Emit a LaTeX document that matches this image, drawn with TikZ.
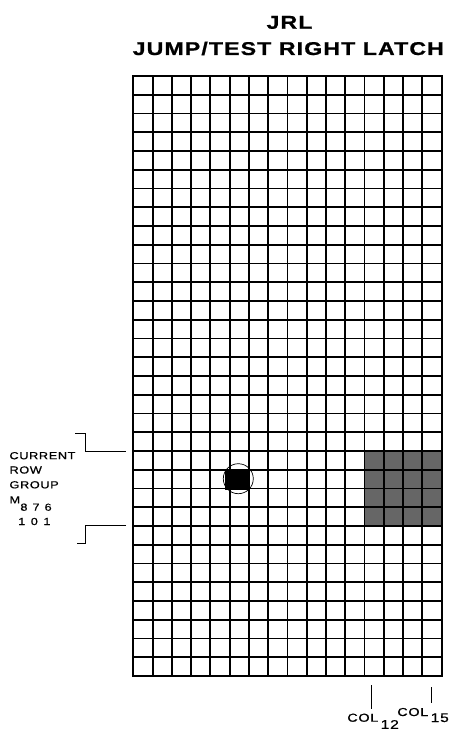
\documentclass[tikz,border=0pt]{standalone}
\usepackage{fontspec}
\setmainfont{Liberation Sans}
\newfontfamily\titlef[FakeStretch=1.25,LetterSpace=6,BoldFeatures={FakeBold=0.8}]{Liberation Sans}
\newfontfamily\labf[FakeStretch=1.25,LetterSpace=6,FakeBold=0.7]{Liberation Sans}
\tikzset{
  gridline/.style={line width=1.9pt, line cap=rect},
  thinline/.style={line width=0.9pt},
  titletext/.style={inner sep=0pt, anchor=base, font=\titlef\bfseries\fontsize{18.5}{20}\selectfont},
  labtext/.style={inner sep=0pt, anchor=base west, font=\labf\fontsize{10.2}{11}\selectfont},
  coltext/.style={inner sep=0pt, anchor=base east, font=\labf\fontsize{11.5}{12}\selectfont},
  colnum/.style={inner sep=0pt, anchor=base west, font=\labf\fontsize{12.5}{13}\selectfont},
  shade/.style={fill=black!60}
}
\begin{document}
\begin{tikzpicture}[x=1pt,y=-1pt]
\useasboundingbox (0,0) rectangle (455,733);
% titles
\node[titletext] (t1) at (289.5,28.7) {JRL};
\node[titletext] (t2) at (288.3,55) {JUMP/TEST RIGHT LATCH};
% shaded block (cols 12-15, rows 20-23)
\fill[shade] ({133.3+12*19.27},{76+20*18.75}) rectangle (441.7,{76+24*18.75});
% black cell
\fill[black] (225,469.5) rectangle (250,490);
% grid
\foreach \i in {0,...,16} \draw[gridline] ({133.3+\i*19.27},76) -- ({133.3+\i*19.27},676);
\foreach \j in {0,...,32} \draw[gridline] (133.3,{76+\j*18.75}) -- (441.7,{76+\j*18.75});
% circle around black cell
\draw[line width=0.7pt] (238.3,478.7) circle[radius=15];
% brackets
\draw[thinline] (75,433.3) -- (85,433.3) -- (85,451) -- (126,451);
\draw[thinline] (126,525) -- (85,525) -- (85,543) -- (77,543);
% left labels
\node[labtext] (l1) at (9.3,459.2) {CURRENT};
\node[labtext] (l2) at (9.3,473.5) {ROW};
\node[labtext] (l3) at (9.3,488.3) {GROUP};
\node[labtext] (l4) at (9.3,503.3) {M};
\node[labtext] (l5) at (20.2,510.7) {8\hspace{5pt}7\hspace{5pt}6};
\node[labtext] (l6) at (18,525) {1\hspace{5.5pt}0\hspace{5.5pt}1};
% column ticks and labels
\draw[thinline] (371.7,685) -- (371.7,709);
\draw[thinline] (431.7,687) -- (431.7,703);
\node[coltext] (c12) at (378.5,721.7) {COL};
\node[colnum] (n12) at (380.5,728.8) {12};
\node[coltext] (c15) at (428.5,716) {COL};
\node[colnum] (n15) at (430.5,722) {15};
\end{tikzpicture}
\end{document}
